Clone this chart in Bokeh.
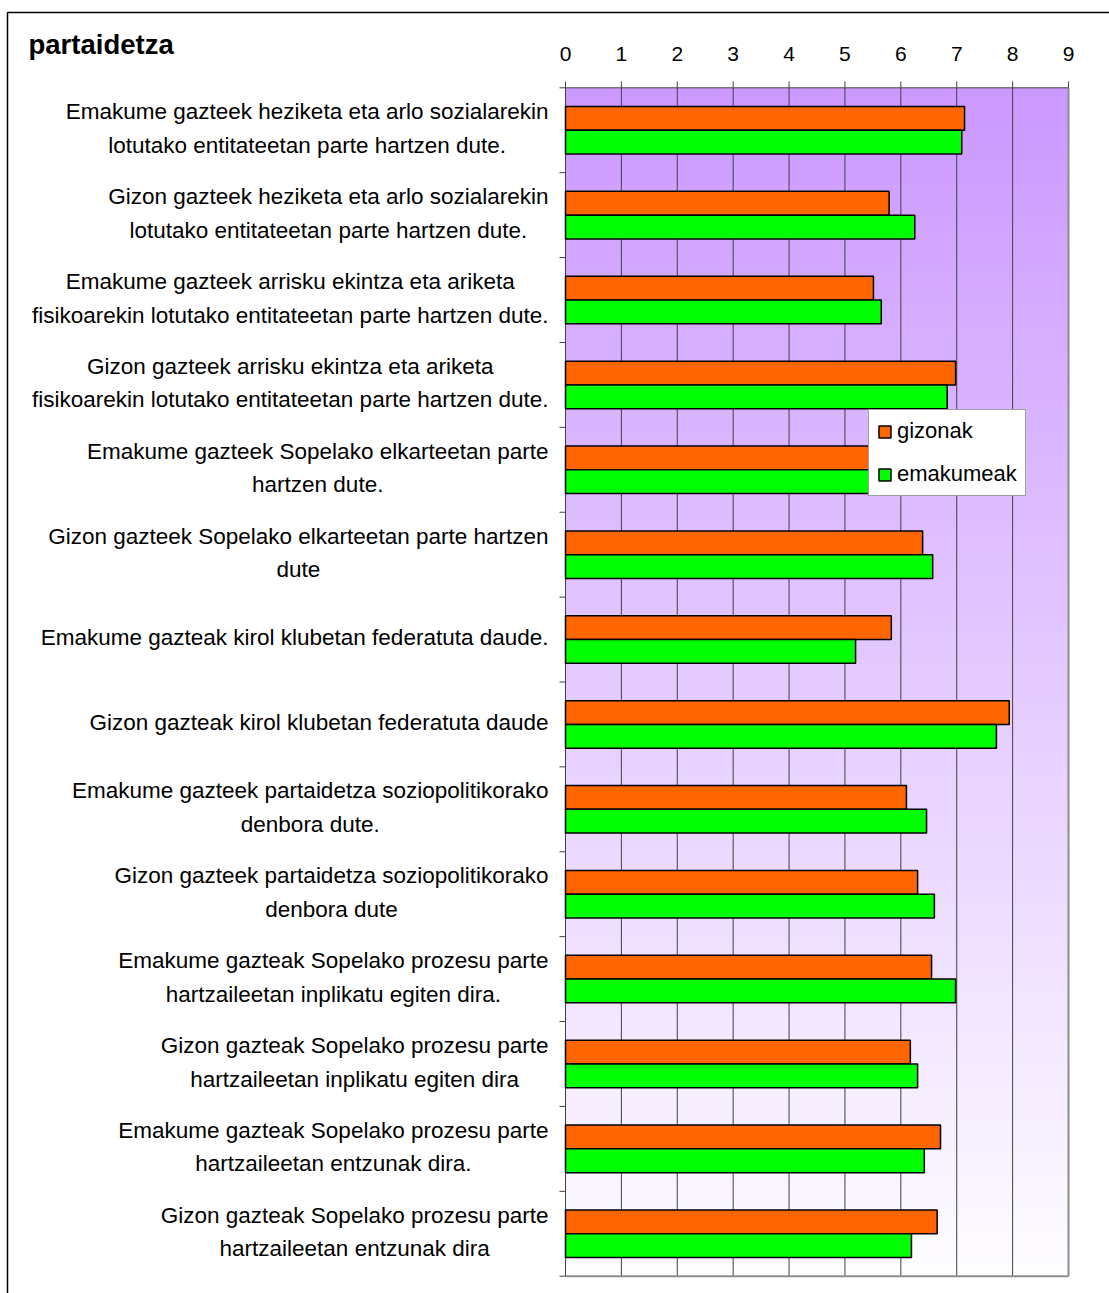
import numpy as np
from bokeh.plotting import figure
from bokeh.models import Range1d, Legend, LegendItem, ColumnDataSource
from bokeh.core.properties import value
from bokeh.embed import file_html
from bokeh.resources import INLINE

title_text = "partaidetza"
categories = [
    "Emakume gazteek heziketa eta arlo sozialarekin\nlotutako entitateetan parte hartzen dute.",
    "Gizon gazteek heziketa eta arlo sozialarekin\nlotutako entitateetan parte hartzen dute.",
    "Emakume gazteek arrisku ekintza eta ariketa\nfisikoarekin lotutako entitateetan parte hartzen dute.",
    "Gizon gazteek arrisku ekintza eta ariketa\nfisikoarekin lotutako entitateetan parte hartzen dute.",
    "Emakume gazteek Sopelako elkarteetan parte\nhartzen dute.",
    "Gizon gazteek Sopelako elkarteetan parte hartzen\ndute",
    "Emakume gazteak kirol klubetan federatuta daude.",
    "Gizon gazteak kirol klubetan federatuta daude",
    "Emakume gazteek partaidetza soziopolitikorako\ndenbora dute.",
    "Gizon gazteek partaidetza soziopolitikorako\ndenbora dute",
    "Emakume gazteak Sopelako prozesu parte\nhartzaileetan inplikatu egiten dira.",
    "Gizon gazteak Sopelako prozesu parte\nhartzaileetan inplikatu egiten dira",
    "Emakume gazteak Sopelako prozesu parte\nhartzaileetan entzunak dira.",
    "Gizon gazteak Sopelako prozesu parte\nhartzaileetan entzunak dira",
]
gizonak = [7.14, 5.79, 5.51, 6.98, 6.35, 6.39, 5.83, 7.94, 6.10, 6.30, 6.55, 6.17, 6.71, 6.65]
emakumeak = [7.09, 6.25, 5.65, 6.83, 6.10, 6.57, 5.19, 7.71, 6.46, 6.60, 6.98, 6.30, 6.42, 6.19]
x_ticks = [0, 1, 2, 3, 4, 5, 6, 7, 8, 9]
series_names = ["gizonak", "emakumeak"]

FONT = "Liberation Sans"
n = len(categories)
idx = np.arange(n)
XMAX = x_ticks[-1]

# layout: page pixel geometry of the plot area
W, H = 1109, 1293
PX_L, PX_R = 565.0, 1068.0     # x=0 and x=9
PY_T, PY_B = 87.3, 1275.7      # top / bottom of plot area
sx = (PX_R - PX_L) / XMAX
sy = (PY_B - PY_T) / n


def px2x(px):
    return (px - PX_L) / sx


def py2y(py):
    return (py - PY_T) / sy


p = figure(width=W, height=H, output_backend="svg", toolbar_location=None,
           x_range=Range1d(px2x(0), px2x(W)), y_range=Range1d(py2y(H), py2y(0)),
           x_axis_location=None, y_axis_location=None,
           min_border=0)
p.background_fill_color = "white"
p.border_fill_color = "white"
p.outline_line_color = None
p.xgrid.visible = False
p.ygrid.visible = False

# outer chart border (top & left visible)
p.line(x=[px2x(7), px2x(7), px2x(W)], y=[py2y(H), py2y(12), py2y(12)],
       line_color="black", line_width=1.5)

# gradient background of the plot area
N = 256
t = np.linspace(0, 1, N)
top = np.array([204, 153, 255])
bot = np.array([254, 253, 255])
cols = (top[None, :] * (1 - t[:, None]) + bot[None, :] * t[:, None]).astype(np.uint32)
img = np.empty((N, 1), dtype=np.uint32)
view = img.view(dtype=np.uint8).reshape((N, 1, 4))
view[:, 0, 0] = cols[:, 0]
view[:, 0, 1] = cols[:, 1]
view[:, 0, 2] = cols[:, 2]
view[:, 0, 3] = 255
p.image_rgba(image=[img], x=0, y=0, dw=XMAX, dh=n)

# vertical gridlines
p.segment(x0=x_ticks[1:-1], x1=x_ticks[1:-1], y0=[0] * (len(x_ticks) - 2),
          y1=[n] * (len(x_ticks) - 2), line_color="#404040", line_width=1)

# plot-area frame
p.segment(x0=[0, 0], x1=[XMAX, 0], y0=[0, 0], y1=[0, n], line_color="#404040", line_width=1)
p.segment(x0=[XMAX, 0], x1=[XMAX, XMAX], y0=[0, n], y1=[n, n], line_color="#8c8c8c", line_width=2)

# top ticks + labels
p.segment(x0=x_ticks, x1=x_ticks, y0=[py2y(81)] * len(x_ticks), y1=[0] * len(x_ticks),
          line_color="#404040", line_width=1)
p.text(x=x_ticks, y=[py2y(53)] * len(x_ticks), text=[str(v) for v in x_ticks],
       text_align="center", text_baseline="middle", text_font=value(FONT),
       text_font_size=value("21px"), text_color="black")

# left ticks at category boundaries
bounds = list(range(n + 1))
p.segment(x0=[px2x(559)] * len(bounds), x1=[0] * len(bounds), y0=bounds, y1=bounds,
          line_color="#404040", line_width=1)

# bars
src = ColumnDataSource(dict(y_g=idx + 0.5 - 0.14, y_e=idx + 0.5 + 0.14,
                            giz=gizonak, ema=emakumeak))
r1 = p.hbar(y="y_g", right="giz", left=0, height=0.28, source=src,
            fill_color="#FF6600", line_color="black", line_width=1.5)
r2 = p.hbar(y="y_e", right="ema", left=0, height=0.28, source=src,
            fill_color="#00FF00", line_color="black", line_width=1.5)

# category labels
lab = ColumnDataSource(dict(x=[px2x(548)] * n, y=idx + 0.5 - 0.02, text=categories))
p.text(x="x", y="y", text="text", source=lab, anchor="center_right",
       text_align="center", text_baseline="middle", text_font=value(FONT),
       text_font_size=value("22.5px"), text_color="black", text_line_height=1.34)

# title
p.text(x=[px2x(28)], y=[py2y(44)], text=[title_text], text_align="left",
       text_baseline="middle", text_font=value(FONT), text_font_size=value("27.5px"),
       text_font_style="bold", text_color="black")

legend = Legend(items=[LegendItem(label=series_names[0], renderers=[r1]),
                       LegendItem(label=series_names[1], renderers=[r2])],
                location=(868, H - 496))
legend.label_text_font = FONT
legend.label_text_font_size = "22px"
legend.label_text_color = "black"
legend.glyph_width = 15
legend.glyph_height = 15
legend.label_height = 26
legend.spacing = 17
legend.padding = 8
legend.margin = 0
legend.label_standoff = 5
legend.border_line_color = "#404040"
legend.border_line_width = 1
legend.background_fill_color = "white"
legend.background_fill_alpha = 1
p.add_layout(legend)

open("out.html", "w").write(file_html(p, INLINE))
